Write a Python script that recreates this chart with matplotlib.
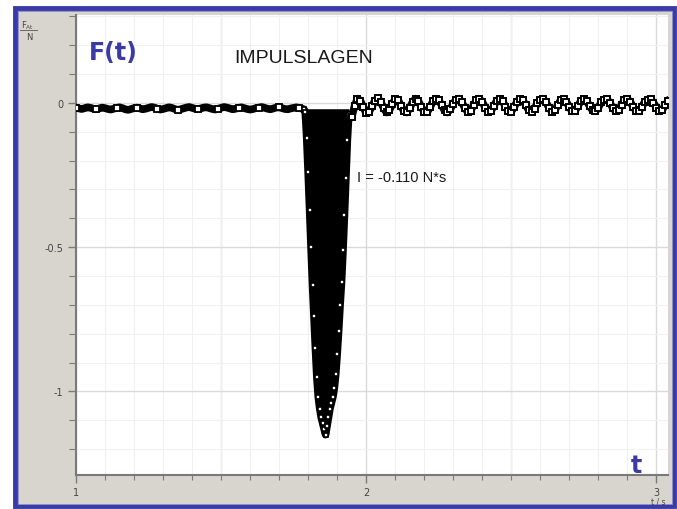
import numpy as np
import matplotlib.pyplot as plt
from matplotlib.patches import Rectangle
from matplotlib.lines import Line2D
from matplotlib.ticker import FixedLocator, FixedFormatter, MultipleLocator

# force readings (N), sampled every 0.01 s before/after the hit, 0.005 s in the hit
pre_start = 1.00
pre = [-0.016, -0.019, -0.021, -0.018, -0.015, -0.017, -0.020, -0.022, -0.019, -0.016,
       -0.018, -0.021, -0.023, -0.020, -0.017, -0.015, -0.018, -0.022, -0.024, -0.021,
       -0.018, -0.016, -0.019, -0.022, -0.020, -0.017, -0.014, -0.016, -0.020, -0.023,
       -0.021, -0.018, -0.015, -0.017, -0.021, -0.024, -0.022, -0.019, -0.016, -0.014,
       -0.017, -0.020, -0.022, -0.019, -0.016, -0.015, -0.018, -0.021, -0.023, -0.020,
       -0.017, -0.014, -0.016, -0.019, -0.022, -0.020, -0.017, -0.015, -0.018, -0.021,
       -0.023, -0.021, -0.018, -0.016, -0.014, -0.017, -0.020, -0.022, -0.019, -0.016,
       -0.015, -0.018, -0.021, -0.022, -0.019, -0.017, -0.015, -0.018, -0.020]

hit_start = 1.785
hit = [-0.022, -0.03, -0.12, -0.24, -0.37, -0.50, -0.63, -0.74, -0.85, -0.95,
       -1.02, -1.06, -1.09, -1.11, -1.13, -1.15, -1.12, -1.09, -1.06, -1.04,
       -1.02, -0.99, -0.94, -0.87, -0.79, -0.70, -0.62, -0.51, -0.39, -0.26,
       -0.13, -0.04]

post_start = 1.95
post = [-0.050, -0.010, 0.015, 0.008, -0.015, -0.035, -0.030, -0.012, 0.008, 0.016,
        0.004, -0.018, -0.033, -0.025, -0.004, 0.014, 0.010, -0.010, -0.028, -0.033,
        -0.018, 0.004, 0.015, 0.006, -0.014, -0.030, -0.032, -0.015, 0.006, 0.015,
        0.010, -0.008, -0.026, -0.033, -0.022, -0.002, 0.012, 0.015, 0.002, -0.018,
        -0.031, -0.027, -0.008, 0.010, 0.014, 0.004, -0.016, -0.030, -0.028, -0.010,
        0.008, 0.014, 0.006, -0.013, -0.029, -0.030, -0.014, 0.005, 0.014, 0.009,
        -0.008, -0.025, -0.031, -0.020, 0.000, 0.012, 0.014, 0.002, -0.017, -0.030,
        -0.026, -0.007, 0.009, 0.013, 0.004, -0.015, -0.029, -0.027, -0.010, 0.007,
        0.013, 0.006, -0.011, -0.026, -0.029, -0.016, 0.003, 0.012, 0.013, 0.000,
        -0.018, -0.028, -0.024, -0.006, 0.009, 0.013, 0.004, -0.014, -0.027, -0.028,
        -0.013, 0.004, 0.012, 0.013, 0.001, -0.016, -0.027, -0.024, -0.008, 0.006]

t_pre = pre_start + 0.01 * np.arange(len(pre))
t_hit = hit_start + 0.005 * np.arange(len(hit))
t_post = post_start + 0.01 * np.arange(len(post))
t = np.concatenate([t_pre, t_hit, t_post])
F = np.concatenate([pre, hit, post])

blue = '#3b3ba8'
W, H = 677, 510

def fx(px):
    return px / W

def fy(py):
    return 1 - py / H

fig = plt.figure(figsize=(6.77, 5.10), dpi=100)
fig.patch.set_facecolor('white')

# grey panel with the blue double frame (kept behind the axes)
fig.patches.append(Rectangle((fx(15), fy(507)), fx(674) - fx(15), fy(9) - fy(507),
                             transform=fig.transFigure, facecolor='#d8d5cf',
                             edgecolor=blue, lw=3.5, zorder=-2))
fig.patches.append(Rectangle((fx(17.5), fy(504.5)), fx(671.5) - fx(17.5), fy(11.5) - fy(504.5),
                             transform=fig.transFigure, facecolor='none',
                             edgecolor='#8f8fcf', lw=0.7, zorder=-1))

ax = fig.add_axes([fx(76), fy(476), fx(668) - fx(76), fy(16) - fy(476)])
ax.set_zorder(1)
ax.set_facecolor('white')

ax.fill_between(t_hit, hit, -0.02, color='black', lw=0, zorder=3)
ax.plot(t, F, color='black', lw=5.5, zorder=4)
# hollow square markers; sparse on the quiet baseline, every sample elsewhere
ax.plot(t_pre, pre, ls='none', marker='s', ms=3.8, mfc='white', mec='black', mew=1.3,
        markevery=7, zorder=5)
ax.plot(t_hit, hit, ls='none', marker='s', ms=3.5, mfc='white', mec='black', mew=1.2, zorder=5)
ax.plot(t_post, post, ls='none', marker='s', ms=4.0, mfc='white', mec='black', mew=1.4, zorder=5)

ax.set_xlim(1.0, 3.04)
ax.set_ylim(-1.29, 0.305)

ax.xaxis.set_major_locator(FixedLocator([1, 2, 3]))
ax.xaxis.set_major_formatter(FixedFormatter(['1', '2', '3']))
ax.xaxis.set_minor_locator(MultipleLocator(0.1))
ax.yaxis.set_major_locator(FixedLocator([-1, -0.5, 0]))
ax.yaxis.set_major_formatter(FixedFormatter(['-1', '-0.5', '0']))
ax.yaxis.set_minor_locator(MultipleLocator(0.1))

ax.grid(which='minor', color='#f1f1f1', lw=0.8, zorder=0)
ax.grid(which='major', color='#dadada', lw=1.0, zorder=0)
for xv in [1.5, 2.5]:
    ax.axvline(xv, color='#dadada', lw=1.0, zorder=0)
ax.set_axisbelow(True)

for s in ['top', 'right']:
    ax.spines[s].set_visible(False)
for s in ['left', 'bottom']:
    ax.spines[s].set_color('#7a7a7a')
    ax.spines[s].set_linewidth(1.5)

ax.tick_params(which='major', direction='out', length=6, width=1, color='#7a7a7a',
               labelsize=7, labelcolor='#444444', pad=3)
ax.tick_params(which='minor', direction='out', length=3.5, width=0.8, color='#7a7a7a')
ax.tick_params(axis='y', which='minor', length=5)

# texts
ax.text(0.021, 0.945, 'F(t)', transform=ax.transAxes, color=blue, fontsize=17,
        fontweight='bold', family='DejaVu Sans', va='top')
fig.text(fx(234), fy(63), 'IMPULSLAGEN', fontsize=14, family='Liberation Sans',
         color='#1a1a1a', zorder=5)
fig.text(fx(357), fy(182), 'I = -0.110 N*s', fontsize=10.5, family='Liberation Sans',
         color='#1a1a1a', zorder=5)
fig.text(fx(631), fy(473), 't', color=blue, fontsize=17, fontweight='bold',
         family='DejaVu Sans', zorder=5)

# axis unit labels
fig.text(fx(21), fy(28), r'F$_{\mathregular{At}}$', fontsize=6, color='#444444')
fig.add_artist(Line2D([fx(20), fx(37)], [fy(31), fy(31)], color='#666666', lw=0.7,
                      transform=fig.transFigure))
fig.text(fx(26), fy(40), 'N', fontsize=6, color='#444444')
fig.text(fx(651), fy(505), 't / s', fontsize=5.5, color='#444444')

fig.savefig('out.png', dpi=100)
